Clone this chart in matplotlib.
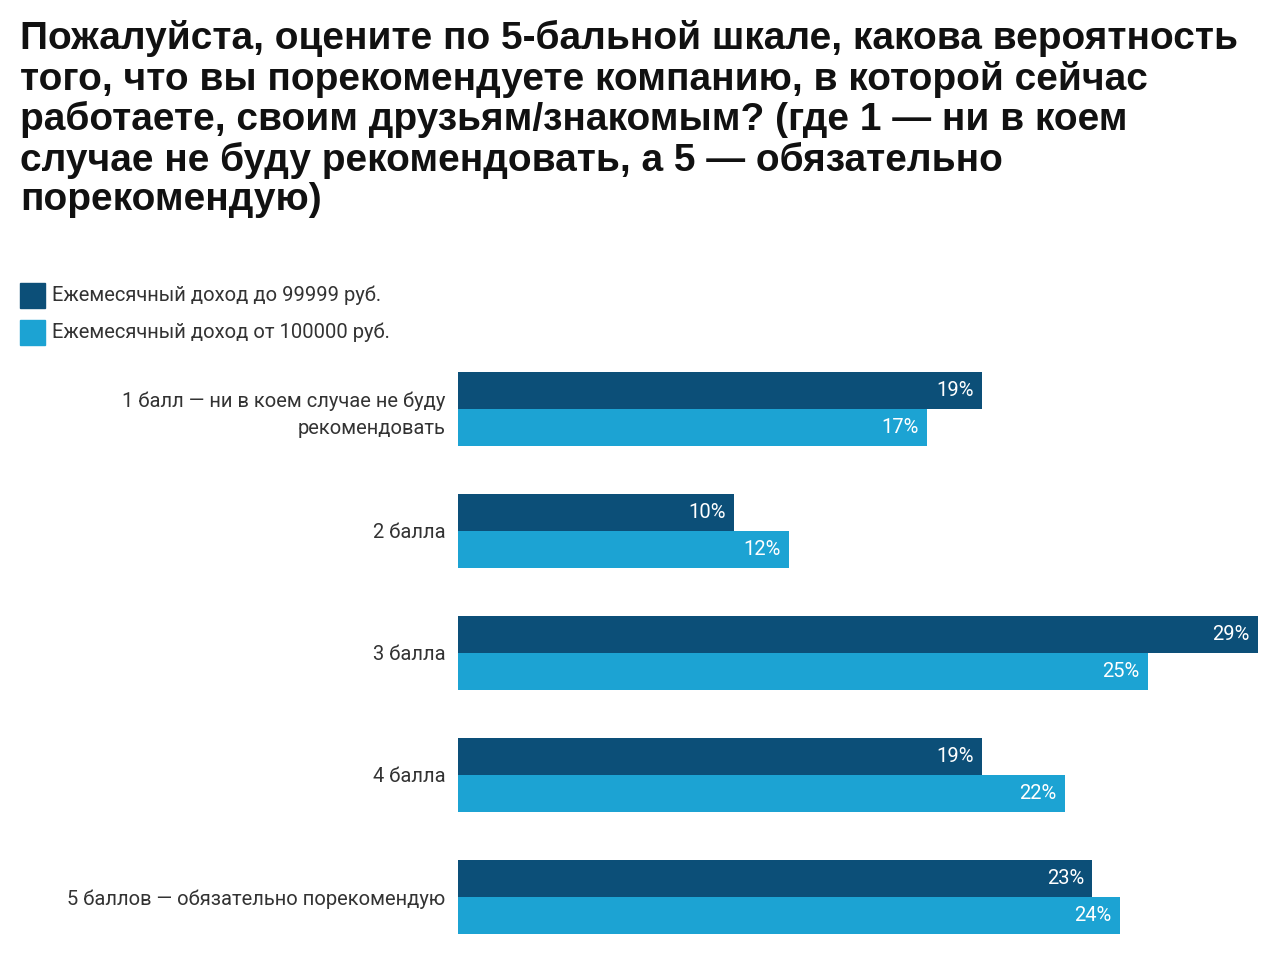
import matplotlib
matplotlib.use("Agg")
import matplotlib.pyplot as plt
from matplotlib.patches import Rectangle

TITLE = ("Пожалуйста, оцените по 5-бальной шкале, какова вероятность\n"
         "того, что вы порекомендуете компанию, в которой сейчас\n"
         "работаете, своим друзьям/знакомым? (где 1 — ни в коем\n"
         "случае не буду рекомендовать, а 5 — обязательно\n"
         "порекомендую)")
CATEGORIES = [
    "1 балл — ни в коем случае не буду\nрекомендовать",
    "2 балла",
    "3 балла",
    "4 балла",
    "5 баллов — обязательно порекомендую",
]
SERIES_NAMES = ["Ежемесячный доход до 99999 руб.", "Ежемесячный доход от 100000 руб."]
LOW_INCOME = [19, 10, 29, 19, 23]
HIGH_INCOME = [17, 12, 25, 22, 24]
COLORS = ["#0c4f78", "#1ca3d3"]

BODY = ["Roboto", "DejaVu Sans"]
plt.rcParams["font.family"] = BODY
fig = plt.figure(figsize=(12.8, 9.68), dpi=100, facecolor="white")

fig.text(20 / 1280, 1 - 20 / 968, TITLE, fontsize=28, weight="bold", color="#111111",
         va="top", ha="left", linespacing=1.12, family=["Liberation Sans", "DejaVu Sans"])

for i, name in enumerate(SERIES_NAMES):
    y = 1 - (308 + i * 37) / 968
    fig.patches.append(Rectangle((20 / 1280, y), 25 / 1280, 25 / 968,
                                 transform=fig.transFigure, color=COLORS[i]))
    fig.text(52 / 1280, y + 12.5 / 968, name, fontsize=14.5, color="#333333", va="center")

ax = fig.add_axes([458 / 1280, 1 - 934 / 968, 800 / 1280, 562 / 968])
h = 37 / 122
ys = list(range(len(CATEGORIES)))
for k, vals in enumerate([LOW_INCOME, HIGH_INCOME]):
    pos = [y + (k - 0.5) * h for y in ys]
    ax.barh(pos, vals, height=h, color=COLORS[k])
    for p, v in zip(pos, vals):
        ax.text(v - 0.3, p, f"{v}%", color="white", fontsize=14.5, ha="right", va="center")

ax.set_xlim(0, 29)
ax.set_ylim(4 + h, -h)
ax.set_yticks(ys)
ax.set_yticklabels(CATEGORIES, fontsize=14.5, color="#333333", ha="right", linespacing=1.5)
ax.tick_params(axis="y", length=0, pad=9)
ax.set_xticks([])
for s in ax.spines.values():
    s.set_visible(False)

fig.savefig("out.png", dpi=100, facecolor="white")
